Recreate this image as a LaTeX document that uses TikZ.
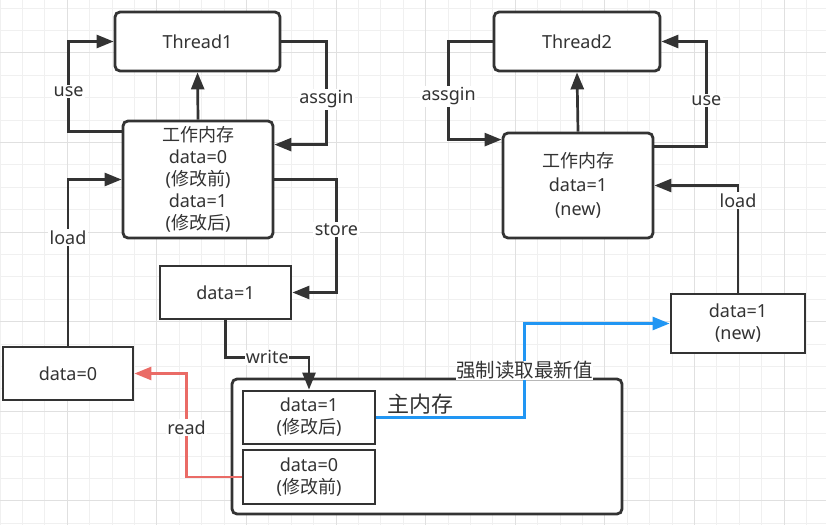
\documentclass[tikz,border=0pt]{standalone}
\usepackage{fontspec}
\setmainfont{Noto Sans}
\newfontfamily\cjk{Noto Sans CJK SC}
\usetikzlibrary{arrows.meta}
\definecolor{ink}{HTML}{333333}
\definecolor{gridminor}{HTML}{F0F0F0}
\definecolor{gridmajor}{HTML}{E0E0E0}
\definecolor{redline}{HTML}{EA6B66}
\definecolor{blueline}{HTML}{2196F3}
\tikzset{
  base/.style={draw=ink, line width=2.8pt, fill=white, text=ink, align=center, inner sep=0pt,
    font=\fontsize{18}{22}\selectfont},
  roundbox/.style={base, rounded corners=5pt},
  sharpbox/.style={base},
  conn/.style={draw=ink, line width=2.7pt, -{Triangle[length=17pt,width=13pt]}},
  lbl/.style={fill=white, text=ink, inner sep=1.5pt, font=\fontsize{18}{22}\selectfont},
}
\begin{document}
\begin{tikzpicture}[x=1pt,y=-1pt]
\useasboundingbox (0,0) rectangle (826,525);
\fill[white] (0,0) rectangle (826,525);
% grid
\foreach \k in {0,...,36} {\draw[gridminor, line width=1pt] (22.4*\k,0) -- (22.4*\k,525);}
\foreach \k in {0,...,23} {\draw[gridminor, line width=1pt] (0,8+22.4*\k) -- (826,8+22.4*\k);}
\foreach \k in {0,...,8} {\draw[gridmajor, line width=1pt] (67.2+89.6*\k,0) -- (67.2+89.6*\k,525);}
\foreach \k in {0,...,5} {\draw[gridmajor, line width=1pt] (0,52.8+89.6*\k) -- (826,52.8+89.6*\k);}

% nodes
\node[roundbox, minimum width=165pt, minimum height=59pt] (t1) at (197.5,41.5) {Thread1};
\node[roundbox, minimum width=150pt, minimum height=117pt] (w1) at (198,179.5)
  {{\cjk 工作内存}\\data=0\\({\cjk 修改前})\\data=1\\({\cjk 修改后})};
\node[roundbox, minimum width=166pt, minimum height=59pt] (t2) at (577,41.5) {Thread2};
\node[roundbox, minimum width=150pt, minimum height=105pt,
  font=\fontsize{18}{24}\selectfont] (w2) at (578,185.5)
  {{\cjk 工作内存}\\data=1\\(new)};
\node[sharpbox, minimum width=131pt, minimum height=53pt] (d1) at (225.5,292.5) {data=1};
\node[sharpbox, minimum width=130pt, minimum height=53pt] (d0) at (68,373.5) {data=0};
\node[sharpbox, minimum width=134pt, minimum height=59pt] (dn) at (738,323.5) {data=1\\(new)};
\node[roundbox, minimum width=390pt, minimum height=135pt] (mm) at (427,446.5) {};
\node[sharpbox, minimum width=132pt, minimum height=53pt] (ma) at (309,417.5) {data=1\\({\cjk 修改后})};
\node[sharpbox, minimum width=132pt, minimum height=54pt] (mb) at (309,477) {data=0\\({\cjk 修改前})};
\node[text=ink, font=\cjk\fontsize{22}{26}\selectfont, inner sep=0pt] (mmt) at (420,404) {主内存};

% Thread1 connectors
\draw[conn] (w1.north) -- (t1.south);
\draw[conn] ([yshift=-12pt]w1.north west) -- ++(-53,0) |- node[lbl, pos=0.22] {use} (t1.west);
\draw[conn] (t1.east) -- ++(45,0) |- node[lbl, pos=0.28] {assgin} ([yshift=-25pt]w1.north east);
\draw[conn] (d0.north) |- node[lbl, pos=0.325] {load} (w1.west);
\draw[conn] (w1.east) -- ++(62,0) |- node[lbl, pos=0.223] {store} (d1.east);
\draw[conn] (d1.south) -- ++(0,37) -| node[lbl, pos=0.25, inner sep=0.5pt] {write} (ma.north);

% Thread2 connectors
\draw[conn] (w2.north) -- (t2.south);
\draw[conn] (t2.west) -- ++(-44,0) |- node[lbl, pos=0.28] {assgin} ([yshift=-8pt]w2.north west);
\draw[conn] ([yshift=-15pt]w2.north east) -- ++(52,0) |- node[lbl, pos=0.22] {use} (t2.east);
\draw[conn] (dn.north) |- node[lbl, pos=0.43] {load} (w2.east);

% coloured connectors
\draw[conn, draw=redline] (mb.west) -- ++(-55,0) |- node[lbl, pos=0.24] {read} (d0.east);
\draw[conn, draw=blueline] (ma.east) -- ++(148,0) |- node[lbl, pos=0.25, inner sep=0.5pt, font=\cjk\fontsize{19.5}{22}\selectfont] {强制读取最新值} (dn.west);
\end{tikzpicture}
\end{document}
